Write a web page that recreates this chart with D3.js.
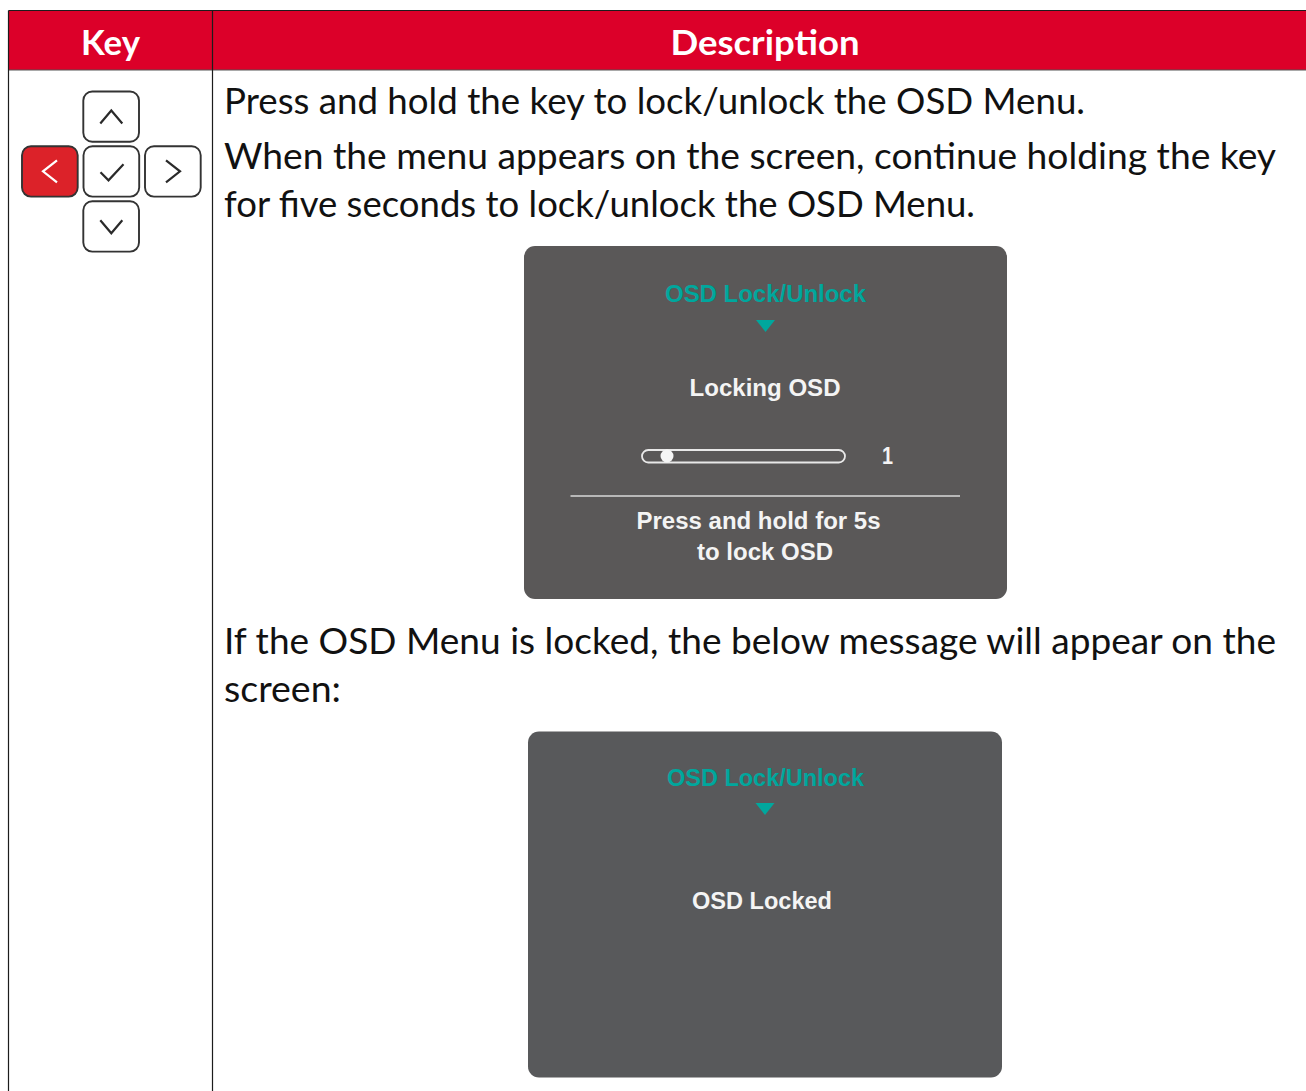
<!DOCTYPE html>
<html><head><meta charset="utf-8">
<script src="https://cdnjs.cloudflare.com/ajax/libs/d3/7.8.5/d3.min.js"></script>
<style>html,body{margin:0;padding:0;background:#fff;overflow:hidden}svg{display:block}text{font-kerning:normal}</style>
</head><body><svg id="c" width="1306" height="1091"></svg>
<script>
const headers = ["Key", "Description"];
const bodyLines = [
  ["Press and hold the key to lock/unlock the OSD Menu.", 114, 861],
  ["When the menu appears on the screen, continue holding the key", 169, 1052],
  ["for five seconds to lock/unlock the OSD Menu.", 217, 751],
  ["If the OSD Menu is locked, the below message will appear on the", 654, 1052],
  ["screen:", 702, 117]
];
const keyButtons = [
  {name:"up", x:83.3, y:91.5, glyph:"M-11,7 L0,-6 L11,7"},
  {name:"left", x:22, y:146.3, glyph:"M7,-11 L-7,0 L7,11", active:true},
  {name:"ok", x:83.5, y:146.3, glyph:"M-11,1 L-3,9 L12,-7"},
  {name:"right", x:145, y:146.3, glyph:"M-7,-11 L7,0 L-7,11"},
  {name:"down", x:83.3, y:201.3, glyph:"M-11,-6 L0,7 L11,-6"}
];
const panels = [
  {x:524, y:246, w:483, h:353, fill:"#5a5858", title:"OSD Lock/Unlock", titleY:302, titleSize:24.5, tri:[765.5,320,332]},
  {x:528, y:731.5, w:474, h:346, fill:"#58595b", title:"OSD Lock/Unlock", titleY:786, titleSize:24, tri:[765,803,815]}
];
const panelTexts = [
  ["Locking OSD", 765, 396, 23.5, 151],
  ["1", 887.5, 464, 23, 11],
  ["Press and hold for 5s", 758.5, 529, 23.5, 244],
  ["to lock OSD", 765, 560, 23.5, 136],
  ["OSD Locked", 762, 909, 23.5, 140]
];

const svg = d3.select("#c");
const RED = "#dc0029", BORDER = "#1c1c1c", SANS = "Lato, Carlito, sans-serif", ARIAL = "'Liberation Sans', Arial, sans-serif";

// table
svg.append("rect").attr("x",9).attr("y",11).attr("width",1297).attr("height",59).attr("fill",RED);
const grid = [[8.5,10.5,1306,10.5],[8.5,70,1306,70],[8.5,10.5,8.5,1091],[212.5,10.5,212.5,1091]];
svg.selectAll("line.g").data(grid).join("line").attr("class","g")
  .attr("x1",d=>d[0]).attr("y1",d=>d[1]).attr("x2",d=>d[2]).attr("y2",d=>d[3])
  .attr("stroke",(d,i)=>i===1?"#555":BORDER).attr("stroke-width",1.2);
svg.selectAll("text.h").data(headers).join("text").attr("class","h")
  .attr("x",(d,i)=>i?765:110.5).attr("y",55).attr("text-anchor","middle")
  .attr("font-family",SANS).attr("font-weight",700).attr("font-size",35).attr("fill","#fff")
  .attr("textLength",(d,i)=>i?189:59).attr("lengthAdjust","spacingAndGlyphs").text(d=>d);

// body text
svg.selectAll("text.b").data(bodyLines).join("text").attr("class","b")
  .attr("x",224).attr("y",d=>d[1]).attr("font-family",SANS).attr("font-size",37.5).attr("fill","#111")
  .attr("textLength",d=>d[2]).attr("lengthAdjust","spacingAndGlyphs").text(d=>d[0]);

// keys
const k = svg.selectAll("g.k").data(keyButtons).join("g").attr("class","k")
  .attr("transform",d=>`translate(${d.x},${d.y})`);
k.append("rect").attr("width",55.7).attr("height",50.3).attr("rx",9)
  .attr("fill",d=>d.active?"#dc2229":"#fff").attr("stroke","#333").attr("stroke-width",1.9);
k.append("path").attr("transform","translate(28,25)").attr("d",d=>d.glyph).attr("fill","none")
  .attr("stroke",d=>d.active?"#fff":"#2a2a2a").attr("stroke-width",2.2);

// panels
const p = svg.selectAll("g.p").data(panels).join("g").attr("class","p");
p.append("rect").attr("x",d=>d.x).attr("y",d=>d.y).attr("width",d=>d.w).attr("height",d=>d.h).attr("rx",11).attr("fill",d=>d.fill);
p.append("text").attr("x",765.5).attr("y",d=>d.titleY).attr("text-anchor","middle")
  .attr("font-family",ARIAL).attr("font-weight",700).attr("font-size",d=>d.titleSize).attr("fill","#00a79d")
  .attr("textLength",d=>d.y<500?201:197).attr("lengthAdjust","spacingAndGlyphs").text(d=>d.title);
p.append("path").attr("d",d=>`M${d.tri[0]-9.5},${d.tri[1]} L${d.tri[0]+9.5},${d.tri[1]} L${d.tri[0]},${d.tri[2]} Z`).attr("fill","#00a79d");

svg.selectAll("text.t").data(panelTexts).join("text").attr("class","t")
  .attr("x",d=>d[1]).attr("y",d=>d[2]).attr("text-anchor","middle")
  .attr("font-family",ARIAL).attr("font-weight",700).attr("font-size",d=>d[3]).attr("fill","#f4f4f4")
  .attr("textLength",d=>d[4]).attr("lengthAdjust","spacingAndGlyphs").text(d=>d[0]);

// slider + rule
svg.append("rect").attr("x",642).attr("y",450).attr("width",203).attr("height",12.5).attr("rx",6.2)
  .attr("fill","none").attr("stroke","#e8e8e8").attr("stroke-width",1.8);
svg.append("circle").attr("cx",667).attr("cy",456).attr("r",6.5).attr("fill","#f5f5f5");
svg.append("line").attr("x1",570.5).attr("x2",960).attr("y1",496).attr("y2",496).attr("stroke","#d8d8d8").attr("stroke-width",1.6);
</script></body></html>
